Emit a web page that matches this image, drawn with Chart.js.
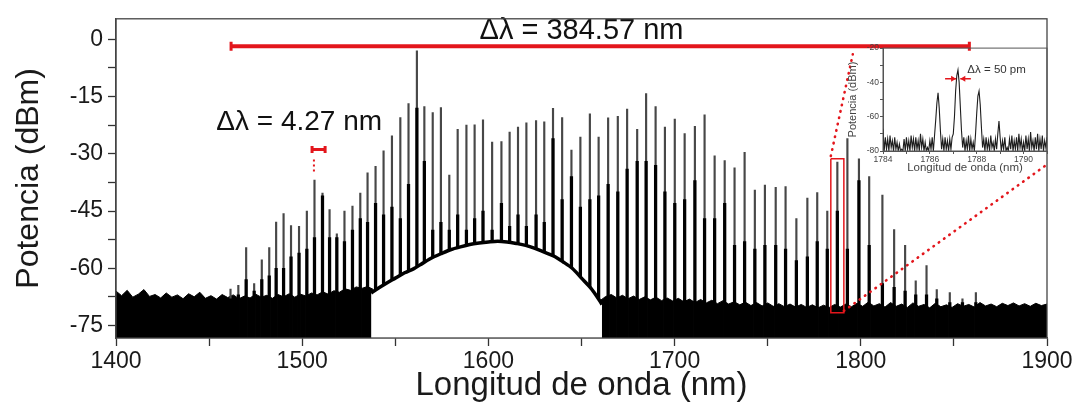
<!DOCTYPE html>
<html lang="es">
<head>
<meta charset="UTF-8">
<title>Espectro del peine de frecuencias</title>
<script src="https://cdn.jsdelivr.net/npm/chart.js"></script>
<style>
  body { margin: 0; background: #fff; }
  #wrap { position: relative; width: 1079px; height: 411px; }
  #mainChart { position: absolute; left: 0; top: 0; }
  #insetChart { position: absolute; left: 845px; top: 42px; }
</style>
</head>
<body>
<div id="wrap">
  <canvas id="mainChart" width="1079" height="411"></canvas>
  <canvas id="insetChart" width="205" height="140"></canvas>
</div>
<script>
// comb lines: wavelength (nm), peak power and height of the dark (side-band) part, dBm
const spikeWl = [1461.5,1465.7,1469.9,1474.2,1478.3,1482.3,1486.0,1490.0,1494.0,1498.3,
  1502.5,1506.6,1510.9,1514.7,1518.6,1522.7,1527.0,1531.2,1535.1,1539.4,
  1543.7,1548.2,1552.7,1557.1,1561.6,1565.6,1570.1,1574.5,1579.0,1583.5,
  1588.2,1592.6,1597.1,1602.0,1607.0,1611.4,1615.9,1620.4,1625.6,1630.0,
  1634.7,1639.6,1644.6,1649.4,1654.5,1659.2,1664.3,1669.5,1674.5,1679.9,
  1684.7,1689.8,1694.8,1700.1,1705.4,1710.9,1716.1,1721.5,1726.9,1732.2,
  1737.6,1743.1,1748.5,1754.3,1759.6,1765.4,1771.3,1776.6,1782.0,1787.4,
  1792.8,1799.0,1804.5,1811.6,1817.9,1823.8,1829.5,1835.3,1840.8,1847.8,
  1854.6,1861.8];
const spikePeak = [-65.5,-64.5,-54.6,-64.0,-57.8,-54.6,-47.9,-45.7,-48.8,-49.0,
  -45.0,-36.9,-40.3,-44.6,-51.0,-45.0,-43.7,-40.3,-35.0,-33.3,
  -29.2,-25.3,-20.5,-16.8,-3.0,-17.6,-19.2,-17.9,-35.6,-23.6,
  -22.5,-22.4,-21.1,-26.9,-26.8,-24.3,-23.0,-21.9,-21.3,-21.6,
  -18.1,-20.5,-29.0,-25.6,-19.5,-25.6,-20.6,-20.2,-18.3,-23.6,
  -14.2,-17.6,-23.0,-20.9,-24.7,-22.8,-19.8,-30.5,-31.8,-33.7,
  -29.6,-39.5,-38.2,-38.8,-38.6,-47.0,-41.6,-40.2,-45.0,-32.2,
  -26.0,-31.3,-36.0,-40.8,-49.9,-54.0,-63.3,-59.3,-65.6,-66.4,
  -68.0,-66.4];
const spikeDark = [-68,-67,-63,-66,-63,-62,-60,-60,-57,-56,
  -55,-52,-41,-52,-52,-53,-50,-47,-48,-43,
  -46,-44,-47,-38,-18,-32,-50,-48,-50,-46,
  -50,-47,-45,-50,-43,-49,-46,-49,-46,-48,
  -26,-42,-36,-44,-42,-41,-38,-40,-34,-32,
  -32,-33,-40,-43,-42,-37,-47,-47,-43,-54,
  -53,-55,-54,-54,-55,-58,-57,-53,-55,-45,
  -55,-37,-54,-64,-65,-66,-67,-67,-68,-69,
  -69,-69];

// continuum hump under the comb
const humpWl = [1537,1540,1545,1550,1555,1560,1565,1570,1575,1580,1585,1590,1595,1600,
  1605,1610,1615,1620,1625,1630,1635,1640,1645,1650,1655,1658,1661];
const humpDb = [-66.5,-65.5,-64.0,-62.6,-61.2,-60.1,-58.6,-57.2,-56.1,-55.1,-54.4,-53.8,-53.4,-53.1,
  -52.9,-53.1,-53.5,-54.0,-54.8,-55.8,-56.8,-58.3,-60.0,-62.6,-65.2,-67.2,-69.5];

// noise floor, top of the black band
const floorLeftWl = [1400,1403,1406,1409,1412,1415,1418,1421,1424,1427,1430,1433,1436,1439,1442,1445,
  1448,1451,1454,1457,1460,1463,1466,1469,1472,1475,1478,1481,1484,1487,1490,1493,1496,1499,
  1502,1505,1508,1511,1514,1517,1520,1523,1526,1529,1532,1535,1538];
const floorLeftDb = [-66.0,-67.2,-65.8,-67.6,-66.8,-65.6,-67.4,-66.9,-67.8,-66.5,
  -67.6,-67.0,-68.0,-66.7,-67.5,-66.3,-67.9,-67.2,-68.1,-66.9,
  -67.7,-67.0,-68.0,-67.3,-67.8,-66.8,-67.6,-67.1,-67.9,-66.9,
  -67.5,-66.7,-67.6,-66.8,-67.3,-66.5,-67.0,-66.2,-66.8,-65.9,
  -66.3,-65.4,-65.8,-64.9,-65.3,-64.8,-65.5];
const floorRightWl = [1660,1663,1666,1669,1672,1675,1678,1681,1684,1687,
  1690,1693,1696,1699,1702,1705,1708,1711,1714,1717,
  1720,1723,1726,1729,1732,1735,1738,1741,1744,1747,
  1750,1753,1756,1759,1762,1765,1768,1771,1774,1777,
  1780,1783,1786,1789,1792,1795,1798,1801,1804,1807,
  1810,1813,1816,1819,1822,1825,1828,1831,1834,1837,
  1840,1843,1846,1849,1852,1855,1858,1861,1864,1867,
  1870,1873,1876,1879,1882,1885,1888,1891,1894,1897,1900];
const floorRightDb = [-68.5,-67.4,-66.9,-67.8,-67.1,-68.0,-67.3,-68.2,-67.5,-68.3,
  -67.6,-68.5,-67.8,-68.6,-67.9,-68.8,-68.1,-69.0,-68.2,-69.1,
  -68.4,-69.3,-68.5,-69.4,-68.8,-69.6,-68.9,-69.8,-69.0,-69.9,
  -69.1,-70.0,-69.3,-70.1,-69.4,-70.2,-69.5,-70.3,-69.6,-70.4,
  -69.7,-70.3,-69.5,-70.2,-69.4,-70.1,-69.2,-70.0,-68.9,-69.9,
  -69.3,-70.2,-69.0,-70.0,-69.4,-70.3,-69.1,-70.0,-69.5,-70.4,
  -69.2,-70.1,-69.6,-70.3,-69.3,-70.0,-69.5,-70.2,-69.0,-69.9,
  -69.4,-70.1,-69.2,-69.8,-69.1,-69.9,-69.3,-70.0,-69.2,-69.8,-69.4];

// red annotations (data coordinates)
const spanWl = [1461.8, 1858.3];      const spanDb = [-1.8, -1.8];
const pitchWl = [1505.3, 1512.3];     const pitchDb = [-28.9, -28.9];
const pitchGuideWl = [1506.3, 1506.3]; const pitchGuideDb = [-31.5, -35.0];
const boxWl = [1783.9, 1790.9, 1790.9, 1783.9, 1783.9];
const boxDb = [-31.3, -31.3, -71.7, -71.7, -31.3];
const leadAWl = [1783.9, 1795.7];     const leadADb = [-30.6, -3.9];
const leadBWl = [1790.9, 1900];       const leadBDb = [-71.2, -32.8];
const labelText = ['\u0394\u03bb = 384.57 nm', '\u0394\u03bb = 4.27 nm'];
const labelWl = [1650, 1498.4];
const labelDb = [2.2, -21.8];

// inset: zoom around the 1787 nm line
const insetWl = [1784.00,1784.05,1784.10,1784.15,1784.20,1784.25,1784.30,1784.35,1784.40,1784.45,
  1784.50,1784.55,1784.60,1784.65,1784.70,1784.75,1784.80,1784.85,1784.90,1784.95,
  1785.00,1785.05,1785.10,1785.15,1785.20,1785.25,1785.30,1785.35,1785.40,1785.45,
  1785.50,1785.55,1785.60,1785.65,1785.70,1785.75,1785.80,1785.85,1785.90,1785.95,
  1786.00,1786.05,1786.10,1786.15,1786.20,1786.25,1786.30,1786.35,1786.40,1786.45,
  1786.50,1786.55,1786.60,1786.65,1786.70,1786.75,1786.80,1786.85,1786.90,1786.95,
  1787.00,1787.05,1787.10,1787.15,1787.20,1787.25,1787.30,1787.35,1787.40,1787.45,
  1787.50,1787.55,1787.60,1787.65,1787.70,1787.75,1787.80,1787.85,1787.90,1787.95,
  1788.00,1788.05,1788.10,1788.15,1788.20,1788.25,1788.30,1788.35,1788.40,1788.45,
  1788.50,1788.55,1788.60,1788.65,1788.70,1788.75,1788.80,1788.85,1788.90,1788.95,
  1789.00,1789.05,1789.10,1789.15,1789.20,1789.25,1789.30,1789.35,1789.40,1789.45,
  1789.50,1789.55,1789.60,1789.65,1789.70,1789.75,1789.80,1789.85,1789.90,1789.95,
  1790.00,1790.05,1790.10,1790.15,1790.20,1790.25,1790.30,1790.35,1790.40,1790.45,
  1790.50,1790.55,1790.60,1790.65,1790.70,1790.75,1790.80,1790.85,1790.90,1790.95,1791.00];
const insetDb = [-67,-80,-72,-79,-73,-80,-71,-78,-74,-80,
  -72,-79,-75,-80,-76,-80,-79,-80,-73,-80,
  -72,-79,-74,-80,-71,-78,-73,-80,-72,-79,
  -74,-80,-70,-78,-73,-80,-75,-80,-78,-80,
  -74,-79,-72,-80,-71,-62,-52,-46,-55,-68,
  -79,-73,-80,-72,-79,-74,-80,-73,-79,-72,
  -70,-60,-45,-36,-32.7,-40,-54,-68,-78,-72,
  -80,-74,-79,-71,-80,-73,-79,-75,-80,-70,
  -58,-48,-45,-53,-66,-78,-73,-80,-72,-79,
  -74,-80,-71,-78,-75,-80,-73,-79,-70,-62.5,
  -72,-80,-74,-79,-72,-80,-78,-80,-73,-79,
  -71,-80,-74,-79,-72,-80,-70,-78,-73,-80,
  -75,-80,-71,-79,-73,-80,-69,-78,-74,-80,
  -72,-79,-70,-80,-73,-79,-71,-80,-74,-78,-72];

const RED = '#e3161c';
const FONT = 'Liberation Sans, Arial, sans-serif';
const Y_MIN = -78.3, Y_MAX = 5.4;

const xy = (xs, ys) => xs.map((x, i) => ({ x: x, y: ys[i] }));

// top/right frame of the plot box
const framePlugin = {
    id: 'frame',
    afterDraw(chart) {
        const { ctx, chartArea: a } = chart;
        ctx.save();
        ctx.strokeStyle = chart.options.plugins.frame.color;
        ctx.lineWidth = chart.options.plugins.frame.width;
        ctx.strokeRect(a.left, a.top, a.right - a.left, a.bottom - a.top);
        ctx.restore();
    }
};

// Δλ labels of the main chart
const labelPlugin = {
    id: 'labels',
    afterDatasetsDraw(chart) {
        const { ctx, scales: { x, y } } = chart;
        ctx.save();
        ctx.fillStyle = '#111';
        ctx.textAlign = 'center';
        ctx.textBaseline = 'middle';
        labelText.forEach((t, i) => {
            ctx.font = (i === 0 ? 29 : 28) + 'px ' + FONT;
            ctx.fillText(t, x.getPixelForValue(labelWl[i]), y.getPixelForValue(labelDb[i]));
        });
        ctx.restore();
    }
};

var mainCtx = document.getElementById('mainChart').getContext('2d');
var mainChart = new Chart(mainCtx, {
    type: 'line',
    data: {
        datasets: [
            {
                type: 'line', data: xy(floorLeftWl, floorLeftDb), order: 8,
                borderColor: '#000', borderWidth: 1, backgroundColor: '#000',
                fill: 'start', pointRadius: 0, tension: 0
            },
            {
                type: 'line', data: xy(floorRightWl, floorRightDb), order: 8,
                borderColor: '#000', borderWidth: 1, backgroundColor: '#000',
                fill: 'start', pointRadius: 0, tension: 0
            },
            {
                type: 'bar', order: 7, grouped: false, barThickness: 1.5,
                backgroundColor: '#474747', borderWidth: 0,
                data: spikeWl.map((w, i) => ({ x: w, y: [Y_MIN, spikePeak[i]] }))
            },
            {
                type: 'bar', order: 6, grouped: false, barThickness: 2.6,
                backgroundColor: '#000', borderWidth: 0,
                data: spikeWl.map((w, i) => ({ x: w, y: [Y_MIN, spikeDark[i]] }))
            },
            {
                type: 'line', data: xy(humpWl, humpDb), order: 5,
                borderColor: '#000', borderWidth: 3.5, backgroundColor: '#fff',
                fill: 'start', pointRadius: 0, tension: 0.3
            },
            {
                type: 'line', data: xy(spanWl, spanDb), order: 1,
                borderColor: RED, borderWidth: 4,
                pointStyle: 'line', pointRotation: 90, pointRadius: 4.5,
                pointBorderWidth: 3, pointBorderColor: RED
            },
            {
                type: 'line', data: xy(pitchWl, pitchDb), order: 1,
                borderColor: RED, borderWidth: 3,
                pointStyle: 'line', pointRotation: 90, pointRadius: 3.5,
                pointBorderWidth: 3, pointBorderColor: RED
            },
            {
                type: 'line', data: xy(pitchGuideWl, pitchGuideDb), order: 1,
                borderColor: RED, borderWidth: 2, borderDash: [2, 3], pointRadius: 0
            },
            {
                type: 'line', data: xy(boxWl, boxDb), order: 1,
                borderColor: RED, borderWidth: 1.5, pointRadius: 0, tension: 0
            },
            {
                type: 'line', data: xy(leadAWl, leadADb), order: 1,
                borderColor: RED, borderWidth: 2.6, borderDash: [0.5, 6],
                borderCapStyle: 'round', pointRadius: 0
            },
            {
                type: 'line', data: xy(leadBWl, leadBDb), order: 1,
                borderColor: RED, borderWidth: 2.6, borderDash: [0.5, 6],
                borderCapStyle: 'round', pointRadius: 0
            }
        ]
    },
    options: {
        responsive: false,
        animation: false,
        layout: { padding: { top: 12, right: 32, left: 0, bottom: 0 } },
        plugins: {
            legend: { display: false },
            tooltip: { enabled: false },
            frame: { color: '#444', width: 1.3 }
        },
        scales: {
            x: {
                type: 'linear', min: 1400, max: 1900, offset: false,
                afterFit: s => { s.height = 73; },
                grid: { drawOnChartArea: false, offset: false, tickLength: 8, color: '#333', tickWidth: 1.3 },
                border: { color: '#444', width: 1.3 },
                ticks: {
                    stepSize: 50, autoSkip: false, includeBounds: false, maxRotation: 0,
                    padding: 2, color: '#1a1a1a', font: { family: FONT, size: 23 },
                    callback: v => (v % 100 === 0 ? String(v) : '')
                },
                title: {
                    display: true, text: 'Longitud de onda (nm)', color: '#1a1a1a',
                    font: { family: FONT, size: 33 }, padding: { top: 0, bottom: 5 }
                }
            },
            y: {
                type: 'linear', min: Y_MIN, max: Y_MAX,
                afterFit: s => { s.width = 116; },
                grid: { drawOnChartArea: false, tickLength: 8, color: '#333', tickWidth: 1.3 },
                border: { color: '#444', width: 1.3 },
                ticks: {
                    stepSize: 7.5, autoSkip: false, includeBounds: false,
                    padding: 5, color: '#1a1a1a', font: { family: FONT, size: 23 },
                    callback: v => (Math.abs(v % 15) < 1e-6 ? String(v) : '')
                },
                title: {
                    display: true, text: 'Potencia (dBm)', color: '#1a1a1a',
                    font: { family: FONT, size: 32 }, padding: { top: 10, bottom: 0 }
                }
            }
        }
    },
    plugins: [framePlugin, labelPlugin]
});

// inset: red arrows and Δλ = 50 pm
const insetNotePlugin = {
    id: 'insetNote',
    afterDatasetsDraw(chart) {
        const { ctx, scales: { x, y } } = chart;
        const yA = y.getPixelForValue(-37.9);
        const xL = x.getPixelForValue(1786.65), xL2 = x.getPixelForValue(1787.12);
        const xR = x.getPixelForValue(1787.75), xR2 = x.getPixelForValue(1787.30);
        ctx.save();
        ctx.strokeStyle = RED;
        ctx.fillStyle = RED;
        ctx.lineWidth = 1.5;
        ctx.beginPath();
        ctx.moveTo(xL, yA); ctx.lineTo(xL2, yA);
        ctx.moveTo(xR, yA); ctx.lineTo(xR2, yA);
        ctx.stroke();
        ctx.beginPath();
        ctx.moveTo(xL2, yA); ctx.lineTo(xL2 - 5, yA - 3); ctx.lineTo(xL2 - 5, yA + 3); ctx.closePath();
        ctx.moveTo(xR2, yA); ctx.lineTo(xR2 + 5, yA - 3); ctx.lineTo(xR2 + 5, yA + 3); ctx.closePath();
        ctx.fill();
        ctx.font = '11.5px ' + FONT;
        ctx.fillStyle = '#333';
        ctx.textAlign = 'left';
        ctx.textBaseline = 'middle';
        ctx.fillText('\u0394\u03bb = 50 pm', x.getPixelForValue(1787.6), y.getPixelForValue(-32.7));
        ctx.restore();
    }
};

var insetCtx = document.getElementById('insetChart').getContext('2d');
var insetChart = new Chart(insetCtx, {
    type: 'line',
    data: {
        datasets: [{
            data: xy(insetWl, insetDb),
            borderColor: '#1e1e1e', borderWidth: 1.1, pointRadius: 0, tension: 0
        }]
    },
    options: {
        responsive: false,
        animation: false,
        layout: { padding: { top: 5, right: 3, left: 0, bottom: 0 } },
        plugins: {
            legend: { display: false },
            tooltip: { enabled: false },
            frame: { color: '#555', width: 1 }
        },
        scales: {
            x: {
                type: 'linear', min: 1784, max: 1791,
                afterFit: s => { s.height = 31; },
                grid: { drawOnChartArea: false, tickLength: 3, color: '#555' },
                border: { color: '#555', width: 1 },
                ticks: {
                    stepSize: 1, autoSkip: false, includeBounds: false, maxRotation: 0,
                    padding: 1, color: '#444', font: { family: FONT, size: 8.5 },
                    callback: v => (v % 2 === 0 ? String(v) : '')
                },
                title: {
                    display: true, text: 'Longitud de onda (nm)', color: '#444',
                    font: { family: FONT, size: 11.5 }, padding: { top: 0, bottom: 7 }
                }
            },
            y: {
                type: 'linear', min: -80, max: -20,
                afterFit: s => { s.width = 38; },
                grid: { drawOnChartArea: false, tickLength: 3, color: '#555' },
                border: { color: '#555', width: 1 },
                ticks: {
                    stepSize: 10, autoSkip: false, padding: 1, color: '#444',
                    font: { family: FONT, size: 8.5 },
                    callback: v => (v % 20 === 0 ? String(v) : '')
                },
                title: {
                    display: true, text: 'Potencia (dBm)', color: '#444',
                    font: { family: FONT, size: 11 }, padding: { top: 1, bottom: 0 }
                }
            }
        }
    },
    plugins: [framePlugin, insetNotePlugin]
});
</script>
</body>
</html>
